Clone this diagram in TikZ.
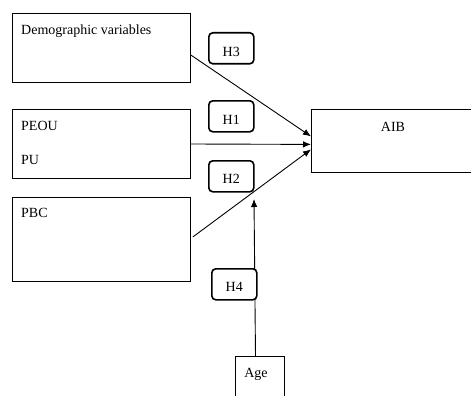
\documentclass[tikz,border=0pt]{standalone}
\usepackage{fontspec}
\setmainfont{Liberation Serif}
\usetikzlibrary{calc,arrows.meta}
\tikzset{
  box/.style={draw, line width=0.8pt, fill=white, inner sep=0pt, anchor=north west},
  hyp/.style={draw, line width=1.6pt, rounded corners=4pt, fill=white, inner sep=0pt,
    minimum width=45pt, minimum height=31pt, anchor=north west},
  lbl/.style={inner sep=0pt, anchor=base west, font=\fontsize{14}{16}\selectfont},
  ctr/.style={inner sep=0pt, anchor=base, font=\fontsize{14}{16}\selectfont},
  link/.style={line width=0.9pt, -{Latex[length=8pt,width=6.5pt]}},
}
\begin{document}
\begin{tikzpicture}[x=1pt,y=-1pt]
\clip (0,0) rectangle (471,396);
\fill[white] (0,0) rectangle (471,396);

% construct boxes
\node[box, minimum width=178pt, minimum height=69pt] (demo) at (12,13) {};
\node[box, minimum width=178pt, minimum height=69pt] (peou) at (12,109) {};
\node[box, minimum width=178pt, minimum height=84pt] (pbc) at (12,197) {};
\node[box, minimum width=200pt, minimum height=63pt] (aib) at (311,109) {};
\node[box, minimum width=49pt, minimum height=50pt] (age) at (235,356) {};

% labels inside the boxes
\node[lbl] (tdemo) at (21,34.3) {Demographic variables};
\node[lbl] (tpeou) at (21,130.5) {PEOU};
\node[lbl] (tpu) at (21,164) {PU};
\node[lbl] (tpbc) at (21,217.5) {PBC};
\node[ctr] (taib) at (393,131) {AIB};
\node[ctr] (tage) at (256,377) {Age};

% paths to the outcome
\coordinate (mod) at (254,199);
\draw[link] ($(demo.north east)+(0,42)$) -- ($(aib.west)+(0,-4.5)$);
\draw[link] ($(peou.north east)+(0,35)$) -- ($(aib.west)+(0,3.5)$);
\draw[link] ($(pbc.north east)+(2,40)$) -- ($(aib.west)+(0,8.5)$);
\draw[link] ($(age.north west)+(20.5,0)$) -- (mod);

% hypothesis tags
\node[hyp] (h3) at (208,32) {};
\node[hyp] (h1) at (208,100) {};
\node[hyp] (h2) at (208,160) {};
\node[hyp] (h4) at (211,268) {};
\node[ctr] (th3) at ($(h3.north)+(0,24.5)$) {H3};
\node[ctr] (th1) at ($(h1.north)+(0,24)$) {H1};
\node[ctr] (th2) at ($(h2.north)+(0,23)$) {H2};
\node[ctr] (th4) at ($(h4.north)+(0,23)$) {H4};
\end{tikzpicture}
\end{document}
